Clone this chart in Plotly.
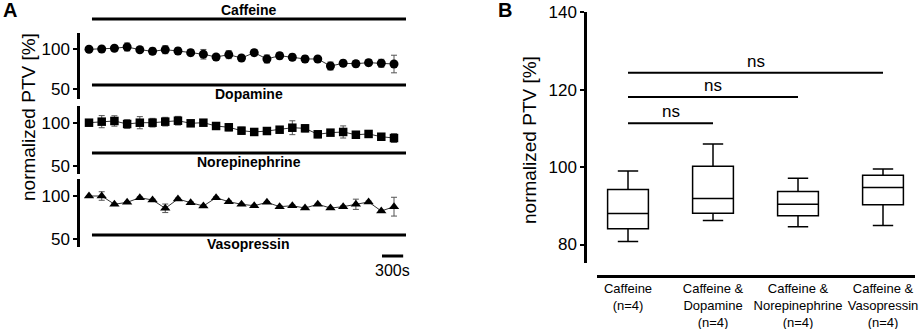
import plotly.graph_objects as go

W, H = 920, 329
FONT = "Liberation Sans, Arial, sans-serif"

# ---------------- data: panel A (time course, normalized PTV %) ----------------
step_s = 180  # sampling interval in seconds
n_points = 25
time_s = [i * step_s for i in range(n_points)]

caffeine_mean = [100, 100.4, 101.3, 102.9, 99.5, 97.5, 99.5, 97.9, 95.8, 93.8, 90.4, 93.3, 89.1,
                 95.8, 87.9, 92.0, 90.0, 87.9, 87.9, 79.1, 82.5, 82.0, 83.3, 82.5, 81.6]
caffeine_err = [0, 1, 1, 5, 1, 4, 5, 4, 4, 6, 1, 5, 2, 4, 5, 4, 4, 4, 2, 5, 4, 4, 4, 5, 11]

dopamine_mean = [100, 101.2, 102.0, 98.5, 100, 100, 101.2, 102.3, 99.3, 100, 96.2, 94.7, 90.8,
                 89.3, 90.4, 91.9, 94.2, 93.5, 86.6, 88.5, 89.3, 86.1, 87.0, 83.8, 82.3]
dopamine_err = [1, 7, 6, 5, 7, 5, 5, 5, 1, 3, 4, 4, 4, 1, 1, 1, 8, 4, 4, 1, 7, 1, 1, 1, 5]

norepi_mean = [100, 100, 90.3, 92.6, 98.0, 95.3, 85.6, 96.5, 92.2, 88.3, 98.0, 93.3, 90.3,
               88.6, 92.6, 87.5, 88.6, 85.9, 90.3, 85.9, 87.5, 90.3, 93.0, 82.4, 87.5]
norepi_err = [0, 5, 1, 1, 1, 1, 5, 1, 1, 1, 1, 1, 1, 1, 1, 1, 1, 1, 1, 1, 1, 6, 1, 1, 11]

treatments = ["Caffeine", "Dopamine", "Norepinephrine", "Vasopressin"]
treatment_start_s = 42
treatment_end_s = 4490
scalebar_s = 300

# ---------------- data: panel B (box plots) ----------------
groups = ["Caffeine<br>(n=4)", "Caffeine &<br>Dopamine<br>(n=4)",
          "Caffeine &<br>Norepinephrine<br>(n=4)", "Caffeine &<br>Vasopressin<br>(n=4)"]
box_q1 = [84.1, 88.1, 87.4, 90.3]
box_median = [88.0, 91.9, 90.4, 94.7]
box_q3 = [94.2, 100.2, 93.7, 97.9]
box_low = [80.8, 86.2, 84.6, 84.9]
box_high = [99.0, 106.0, 97.1, 99.5]
comparisons = [(0, 1, 111.3, "ns"), (0, 2, 118.1, "ns"), (0, 3, 124.4, "ns")]


def px_x(p):
    return p / W


def px_y(p):
    return 1 - p / H


fig = go.Figure()

# ---- panel A layout geometry ----
x0_px, x_first_px, x_last_px, x1_px = 80, 89, 394, 410
s_per_px = (time_s[-1] - time_s[0]) / (x_last_px - x_first_px)
xrange_A = [(x0_px - x_first_px) * s_per_px, (x1_px - x_first_px) * s_per_px]

panels = [
    # (mean, err, symbol, y_top_px, y_bot_px, y100_px, y50_px)
    (caffeine_mean, caffeine_err, "circle", 33.3, 99.3, 49.3, 89.3),
    (dopamine_mean, dopamine_err, "square", 106, 174, 122.7, 166.0),
    (norepi_mean, norepi_err, "triangle-up", 179.3, 246.7, 196, 238.7),
]

for k, (mean, err, sym, ytop, ybot, y100, y50) in enumerate(panels):
    idx = "" if k == 0 else str(k + 1)
    ppu = (y50 - y100) / 50.0
    ymax = 100 + (y100 - ytop) / ppu
    ymin = 50 - (ybot - y50) / ppu
    fig.add_trace(go.Scatter(
        x=time_s, y=mean, mode="lines+markers",
        marker=dict(symbol=sym, size=9 if sym != "square" else 8.5, color="black"),
        line=dict(color="#333333", width=1),
        error_y=dict(type="data", array=err, color="#555555", thickness=1, width=3),
        xaxis="x" + idx, yaxis="y" + idx, showlegend=False,
    ))
    fig.layout["xaxis" + idx] = dict(
        domain=[px_x(x0_px), px_x(x1_px)], range=xrange_A, visible=False,
        anchor="y" + idx, fixedrange=True, automargin=False)
    fig.layout["yaxis" + idx] = dict(
        domain=[px_y(ybot), px_y(ytop)], range=[ymin, ymax], anchor="x" + idx,
        tickvals=[50, 100], ticks="outside", ticklen=4, tickwidth=2, tickcolor="black",
        showline=True, linecolor="black", linewidth=2.5, showgrid=False, zeroline=False,
        automargin=False, tickfont=dict(family=FONT, size=17, color="black"))

shapes = []
annotations = []

# treatment bars and labels
bar_y_px = [19, 85, 153, 235]
label_y_px = [10, 94, 162, 244]
t_mid = (treatment_start_s + treatment_end_s) / 2
for name, by, ly in zip(treatments, bar_y_px, label_y_px):
    shapes.append(dict(type="line", xref="x", yref="paper",
                       x0=treatment_start_s, x1=treatment_end_s, y0=px_y(by), y1=px_y(by),
                       line=dict(color="black", width=3)))
    annotations.append(dict(text="<b>%s</b>" % name, xref="x", yref="paper", x=t_mid, y=px_y(ly),
                            showarrow=False, font=dict(family=FONT, size=14, color="black"),
                            xanchor="center", yanchor="middle"))

# scale bar
sb_end = 4450
shapes.append(dict(type="line", xref="x", yref="paper", x0=sb_end - scalebar_s, x1=sb_end,
                   y0=px_y(256), y1=px_y(256), line=dict(color="black", width=3)))
annotations.append(dict(text="%ds" % scalebar_s, xref="x", yref="paper", x=sb_end - scalebar_s / 2,
                        y=px_y(270), showarrow=False, font=dict(family=FONT, size=16, color="black"),
                        xanchor="center", yanchor="middle"))

# y title A
annotations.append(dict(text="normalized PTV [%]", xref="paper", yref="paper", x=px_x(28), y=px_y(117),
                        textangle=-90, showarrow=False, font=dict(family=FONT, size=19, color="black"),
                        xanchor="center", yanchor="middle"))

# ---- panel B ----
xpos = list(range(len(groups)))
for i in xpos:
    fig.add_trace(go.Box(
        x=[i], q1=[box_q1[i]], median=[box_median[i]], q3=[box_q3[i]],
        lowerfence=[box_low[i]], upperfence=[box_high[i]],
        width=0.48, whiskerwidth=0.5, fillcolor="white",
        line=dict(color="black", width=1.5), boxpoints=False,
        xaxis="x4", yaxis="y4", showlegend=False, hoverinfo="skip"))

c0_px, dpx = 628, 85
fig.layout["xaxis4"] = dict(
    domain=[px_x(597), px_x(915)], range=[(597 - c0_px) / dpx, (915 - c0_px) / dpx],
    anchor="free", position=px_y(275.7), showline=True, linecolor="black", linewidth=3,
    tickvals=xpos, ticktext=groups, ticks="", showgrid=False, zeroline=False,
    automargin=False, tickfont=dict(family=FONT, size=13, color="black"), fixedrange=True)

yb_top, yb_bot, y140, y80 = 12.3, 263.3, 12.3, 244.5
ppu_b = (y80 - y140) / 60.0
fig.layout["yaxis4"] = dict(
    domain=[px_y(yb_bot), px_y(yb_top)], range=[140 - (yb_bot - y140) / ppu_b, 140],
    anchor="free", position=px_x(585), tickvals=[80, 100, 120, 140], ticks="outside",
    ticklen=4, tickwidth=2, tickcolor="black", showline=True, linecolor="black", linewidth=2.5,
    showgrid=False, zeroline=False, automargin=False,
    tickfont=dict(family=FONT, size=17, color="black"))

for a, b, yv, txt in comparisons:
    shapes.append(dict(type="line", xref="x4", yref="y4", x0=a, x1=b, y0=yv, y1=yv,
                       line=dict(color="black", width=2)))
    annotations.append(dict(text=txt, xref="x4", yref="y4", x=(a + b) / 2, y=yv, showarrow=False,
                            font=dict(family=FONT, size=17, color="black"),
                            xanchor="center", yanchor="bottom", yshift=0))

annotations.append(dict(text="normalized PTV [%]", xref="paper", yref="paper", x=px_x(530), y=px_y(140),
                        textangle=-90, showarrow=False, font=dict(family=FONT, size=19, color="black"),
                        xanchor="center", yanchor="middle"))

# panel letters
annotations.append(dict(text="<b>A</b>", xref="paper", yref="paper", x=px_x(1), y=px_y(10),
                        showarrow=False, font=dict(family=FONT, size=20, color="black"),
                        xanchor="left", yanchor="middle"))
annotations.append(dict(text="<b>B</b>", xref="paper", yref="paper", x=px_x(496), y=px_y(10),
                        showarrow=False, font=dict(family=FONT, size=20, color="black"),
                        xanchor="left", yanchor="middle"))

fig.update_layout(
    width=W, height=H, margin=dict(l=0, r=0, t=0, b=0, pad=0, autoexpand=False),
    paper_bgcolor="white", plot_bgcolor="white",
    shapes=shapes, annotations=annotations, showlegend=False,
    font=dict(family=FONT, color="black"),
)

fig.write_html("out.html", config={"displayModeBar": False},
               post_script="document.body.style.margin='0px';document.body.style.overflow='hidden';")
